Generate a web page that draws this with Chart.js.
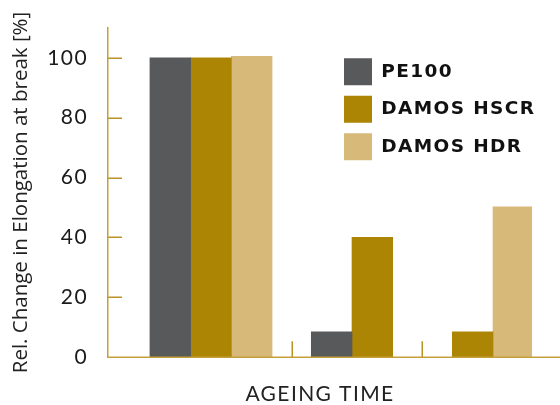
<!DOCTYPE html>
<html>
<head>
<meta charset="utf-8">
<script src="https://cdn.jsdelivr.net/npm/chart.js@4/dist/chart.umd.min.js"></script>
<style>
  html, body { margin: 0; padding: 0; background: #ffffff; }
  #wrap { width: 560px; height: 405px; }
</style>
</head>
<body>
<div id="wrap"><canvas id="c" width="560" height="405"></canvas></div>
<script>
// ---- data ----
const categories = ['Initial', 'Ageing step 1', 'Ageing step 2'];
const seriesNames = ['PE100', 'DAMOS HSCR', 'DAMOS HDR'];
const pe100 = [100, 8.4, null];
const damosHSCR = [100, 40, 8.4];
const damosHDR = [100.5, null, 50.2];
const yTickValues = [0, 20, 40, 60, 80, 100];

// ---- styles ----
const seriesColors = ['#58595b', '#ad8505', '#d7b97a'];
const axisGold = '#c4a03a';
const tickGold = '#bb9227';

const seriesValues = [pe100, damosHSCR, damosHDR];

// wide letter spacing for the geometric labels (legend, ticks, x title);
// the y title is drawn after the datasets, without extra spacing
const textSpacing = {
  id: 'textSpacing',
  beforeDraw(chart) { chart.ctx.letterSpacing = '1.4px'; },
  afterDatasetsDraw(chart) { chart.ctx.letterSpacing = '0px'; },
  afterDraw(chart) { chart.ctx.letterSpacing = '0px'; }
};

const axisDecor = {
  id: 'axisDecor',
  afterDatasetsDraw(chart) {
    const { ctx, chartArea, scales } = chart;
    const y = scales.y;
    ctx.save();
    // baseline, running on to the right edge of the canvas
    ctx.strokeStyle = axisGold;
    ctx.lineWidth = 1.5;
    const by = y.getPixelForValue(0) + 0.25;
    ctx.beginPath();
    ctx.moveTo(chartArea.left, by);
    ctx.lineTo(chart.width, by);
    ctx.stroke();
    // inward tick marks on the value axis
    ctx.strokeStyle = tickGold;
    yTickValues.forEach(v => {
      if (v === 0) return;
      const py = Math.round(y.getPixelForValue(v)) + 0.25;
      ctx.beginPath();
      ctx.moveTo(chartArea.left, py);
      ctx.lineTo(chartArea.left + 14, py);
      ctx.stroke();
    });
    // separators between category groups, midway between neighbouring bar groups
    const edges = categories.map((c, i) => {
      let lo = Infinity, hi = -Infinity;
      chart.data.datasets.forEach((ds, k) => {
        const v = seriesValues[k][i];
        if (v === null || v === undefined) return;
        const el = chart.getDatasetMeta(k).data[i];
        lo = Math.min(lo, el.x - el.width / 2);
        hi = Math.max(hi, el.x + el.width / 2);
      });
      return { lo, hi };
    });
    for (let i = 0; i < categories.length - 1; i++) {
      const px = Math.round((edges[i].hi + edges[i + 1].lo) / 2) + 0.25;
      ctx.beginPath();
      ctx.moveTo(px, by);
      ctx.lineTo(px, by - 16);
      ctx.stroke();
    }
    ctx.restore();
  }
};

const legendPlace = {
  id: 'legendPlace',
  afterLayout(chart) {
    const lg = chart.legend;
    if (!lg) return;
    const w = lg.width, h = lg.height;
    lg.left = 333.5;
    lg.top = 47.8;
    lg.right = lg.left + w + 40;
    lg.bottom = lg.top + Math.max(h, 200);
  }
};

new Chart(document.getElementById('c'), {
  type: 'bar',
  data: {
    datasets: seriesNames.map((name, k) => ({
      label: name,
      data: seriesValues[k].map((v, i) => ({ x: i, y: v })),
      backgroundColor: seriesColors[k],
      borderWidth: 0,
      barThickness: 40.7,
      skipNull: true
    }))
  },
  options: {
    responsive: false,
    devicePixelRatio: 1,
    animation: false,
    layout: { padding: { top: 28, left: 0, right: 28, bottom: 0 } },
    plugins: {
      tooltip: { enabled: false },
      legend: {
        position: 'chartArea',
        align: 'start',
        labels: {
          boxWidth: 28,
          boxHeight: 27,
          padding: 10.5,
          color: '#111111',
          font: { family: 'DejaVu Sans', weight: 'bold', size: 18.5 }
        }
      }
    },
    scales: {
      x: {
        type: 'linear',
        min: -0.7305,
        max: 2.2766,
        offset: false,
        grid: { display: false, drawTicks: false },
        border: { display: false },
        ticks: { display: false },
        title: {
          display: true,
          text: 'AGEING TIME',
          color: '#222222',
          font: { family: 'Lato', size: 21, lineHeight: 1 },
          padding: { top: 0, bottom: 0 }
        },
        afterFit(s) { s.height = 48; }
      },
      y: {
        min: 0,
        max: 110,
        afterBuildTicks(s) { s.ticks = yTickValues.map(v => ({ value: v })); },
        grid: { display: false, drawTicks: false, z: 1 },
        border: { display: true, color: axisGold, width: 1.5, z: 1 },
        ticks: {
          color: '#1a1a1a',
          padding: 20,
          font: { family: 'Lato', size: 21 }
        },
        title: {
          display: true,
          text: 'Rel. Change in Elongation at break [%]',
          color: '#222222',
          font: { family: 'Open Sans', size: 20.5, lineHeight: 1.2 },
          padding: { top: 9, bottom: 0 }
        },
        afterFit(s) { s.width = 108; s.paddingTop = 0; s.paddingBottom = 0; }
      }
    }
  },
  plugins: [textSpacing, axisDecor, legendPlace]
});
</script>
</body>
</html>
